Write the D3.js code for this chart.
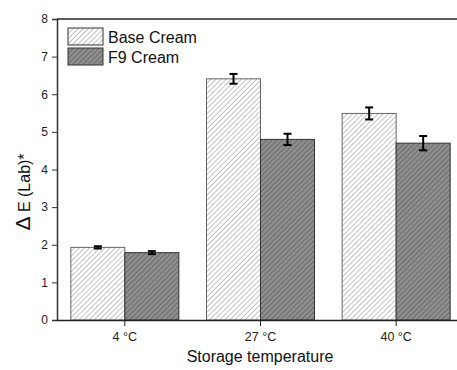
<!DOCTYPE html>
<html>
<head>
<meta charset="utf-8">
<script src="https://cdn.jsdelivr.net/npm/d3@7"></script>
<style>
  body { margin: 0; background: #fff; }
  text { font-family: "Liberation Sans", Arial, sans-serif; }
</style>
</head>
<body>
<div id="chart"></div>
<script>
// data
const categories = ['4 °C', '27 °C', '40 °C'];
const seriesNames = ['Base Cream', 'F9 Cream'];
const baseValues = [1.93, 6.41, 5.49];
const baseErrors = [0.03, 0.13, 0.16];
const f9Values = [1.79, 4.80, 4.70];
const f9Errors = [0.04, 0.15, 0.19];
const yTicks = [0, 1, 2, 3, 4, 5, 6, 7, 8];

const width = 457, height = 370;
const margin = { top: 19, left: 57, bottom: 50 };

const svg = d3.select('#chart').append('svg')
  .attr('width', width)
  .attr('height', height);

// hatch patterns
const defs = svg.append('defs');
function hatch(id, bg, stroke) {
  const p = defs.append('pattern')
    .attr('id', id)
    .attr('patternUnits', 'userSpaceOnUse')
    .attr('width', 3.6).attr('height', 3.6)
    .attr('patternTransform', 'rotate(45)');
  p.append('rect').attr('width', 3.6).attr('height', 3.6).attr('fill', bg);
  p.append('line').attr('x1', 0).attr('y1', 0).attr('x2', 0).attr('y2', 3.6)
    .attr('stroke', stroke).attr('stroke-width', 1);
}
hatch('hBase', '#ffffff', '#8a8a8a');
hatch('hF9', '#8e8e8e', '#4a4a4a');
const fills = ['url(#hBase)', 'url(#hF9)'];

const x = d3.scaleBand()
  .domain(categories)
  .range([margin.left, 464])
  .paddingInner(0)
  .paddingOuter(0);

const inner = d3.scaleBand()
  .domain(seriesNames)
  .range([0, x.bandwidth()])
  .paddingOuter(0.256)
  .paddingInner(0);

const y = d3.scaleLinear()
  .domain([0, 8])
  .range([height - margin.bottom, margin.top]);

const rows = categories.map((c, i) => ({
  cat: c,
  vals: [
    { s: seriesNames[0], v: baseValues[i], e: baseErrors[i], k: 0 },
    { s: seriesNames[1], v: f9Values[i], e: f9Errors[i], k: 1 }
  ]
}));

const groups = svg.append('g').selectAll('g')
  .data(rows)
  .enter().append('g')
  .attr('transform', d => `translate(${x(d.cat)},0)`);

groups.selectAll('rect')
  .data(d => d.vals)
  .enter().append('rect')
  .attr('x', d => inner(d.s))
  .attr('y', d => y(d.v))
  .attr('width', inner.bandwidth())
  .attr('height', d => y(0) - y(d.v))
  .attr('fill', d => fills[d.k])
  .attr('stroke', d => d.k === 0 ? '#666' : '#333')
  .attr('stroke-width', 1);

// error bars
const err = groups.selectAll('g.err')
  .data(d => d.vals)
  .enter().append('g')
  .attr('class', 'err')
  .attr('stroke', '#000')
  .attr('stroke-width', 2);
const cx = d => inner(d.s) + inner.bandwidth() / 2;
err.append('line')
  .attr('x1', cx).attr('x2', cx)
  .attr('y1', d => y(d.v + d.e)).attr('y2', d => y(d.v - d.e));
err.append('line')
  .attr('x1', d => cx(d) - 4).attr('x2', d => cx(d) + 4)
  .attr('y1', d => y(d.v + d.e)).attr('y2', d => y(d.v + d.e));
err.append('line')
  .attr('x1', d => cx(d) - 4).attr('x2', d => cx(d) + 4)
  .attr('y1', d => y(d.v - d.e)).attr('y2', d => y(d.v - d.e));

// axes
const yAxis = svg.append('g')
  .attr('transform', `translate(${margin.left},0)`)
  .call(d3.axisLeft(y).tickValues(yTicks).tickSize(5).tickPadding(4).tickFormat(d3.format('d')));
yAxis.select('.domain').attr('stroke', '#333').attr('stroke-width', 1.5);
yAxis.selectAll('.tick line').attr('stroke', '#333');
yAxis.selectAll('.tick text').attr('font-size', 12).attr('fill', '#222');

const xAxis = svg.append('g')
  .attr('transform', `translate(0,${y(0)})`)
  .call(d3.axisBottom(x).tickSize(6).tickPadding(6).tickSizeOuter(0));
xAxis.select('.domain').attr('stroke', '#222').attr('stroke-width', 1.5);
xAxis.selectAll('.tick line').attr('stroke', '#222');
xAxis.selectAll('.tick text').attr('font-size', 12.5).attr('fill', '#222');

// top frame line
svg.append('line')
  .attr('x1', margin.left).attr('x2', width)
  .attr('y1', y(8)).attr('y2', y(8))
  .attr('stroke', '#222').attr('stroke-width', 1.5);

// axis titles
svg.append('text')
  .attr('x', 260).attr('y', 362)
  .attr('text-anchor', 'middle')
  .attr('font-size', 16)
  .attr('fill', '#111')
  .text('Storage temperature');

const yl = svg.append('text')
  .attr('transform', `translate(30,192) rotate(-90)`)
  .attr('text-anchor', 'middle')
  .attr('font-size', 16)
  .attr('fill', '#111');
yl.append('tspan').attr('font-size', 21).text('Δ');
yl.append('tspan').text(' E (Lab)*');

// legend
const legend = svg.append('g').selectAll('g')
  .data(seriesNames)
  .enter().append('g')
  .attr('transform', (d, i) => `translate(68,${28 + i * 20})`);
legend.append('rect')
  .attr('width', 35).attr('height', 17)
  .attr('fill', (d, i) => fills[i])
  .attr('stroke', '#333');
legend.append('text')
  .attr('x', 40).attr('y', 14.5)
  .attr('font-size', 16)
  .attr('fill', '#111')
  .text(d => d);
</script>
</body>
</html>
